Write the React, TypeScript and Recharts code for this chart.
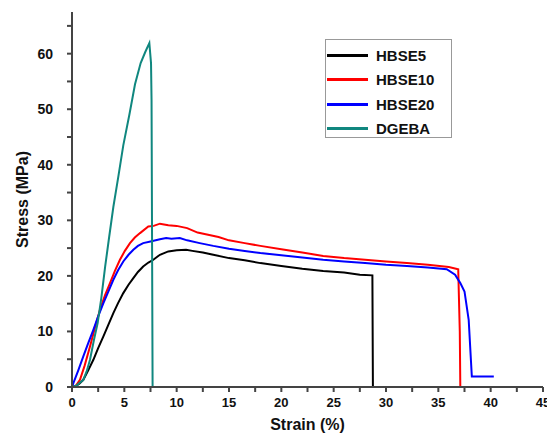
import { LineChart, Line, XAxis, YAxis, Label } from "recharts";

type Pt = { x: number; y: number };
const pts = (arr: number[][]): Pt[] => arr.map(([x, y]) => ({ x, y }));

const seriesNames = ["HBSE5", "HBSE10", "HBSE20", "DGEBA"];
const seriesColors = ["#000000", "#ff0000", "#0000ff", "#10877f"];

// strain (%), stress (MPa)
const hbse5 = pts([
  [0, 0], [0.4, 0.2], [0.7, 0.6], [1.08, 1.3], [1.55, 3.0], [2.04, 4.9], [2.5, 7.0],
  [3.0, 9.1], [3.5, 11.3], [3.95, 13.3], [4.4, 15.1], [4.9, 16.9], [5.4, 18.4],
  [5.86, 19.6], [6.3, 20.7], [6.8, 21.7], [7.3, 22.4], [7.77, 22.9], [8.4, 23.8],
  [9.2, 24.4], [10.0, 24.6], [10.9, 24.7], [11.5, 24.5], [12.5, 24.2], [13.5, 23.8],
  [15, 23.2], [16.5, 22.8], [18, 22.3], [20, 21.8], [22, 21.3], [24, 20.9],
  [26, 20.6], [27.5, 20.2], [28.7, 20.1], [28.75, 0], [29.1, 0],
]);

const hbse10 = pts([
  [0, 0], [0.4, 0.3], [0.76, 1.3], [1.2, 3.8], [1.72, 7.3], [2.2, 10.7], [2.67, 13.9],
  [3.15, 16.5], [3.63, 18.7], [4.1, 20.9], [4.58, 22.9], [5.05, 24.5], [5.54, 25.9],
  [6.0, 26.9], [6.5, 27.7], [7.29, 28.9], [7.8, 29.0], [8.4, 29.4], [9.2, 29.1],
  [10, 29.0], [11, 28.6], [12, 27.8], [13, 27.4], [14, 27.0], [15, 26.4], [16.5, 25.9],
  [18, 25.4], [20, 24.8], [22, 24.2], [24, 23.6], [26, 23.2], [28, 22.9],
  [30, 22.6], [32, 22.3], [34, 22.0], [36, 21.6], [36.9, 21.2], [37.05, 10], [37.1, 0],
]);

const hbse20 = pts([
  [0, 0], [0.13, 0.7], [0.6, 3.0], [1.08, 5.5], [1.55, 7.9], [2.04, 10.3], [2.5, 12.7],
  [3.0, 15.1], [3.5, 17.3], [3.95, 19.3], [4.4, 21.0], [4.9, 22.6], [5.4, 23.8],
  [5.86, 24.7], [6.3, 25.4], [6.8, 25.9], [7.5, 26.2], [8.4, 26.6], [9.0, 26.8],
  [9.5, 26.7], [10.3, 26.8], [11, 26.4], [12.2, 25.9], [13.5, 25.4], [15, 24.9],
  [16.5, 24.5], [18, 24.1], [20, 23.7], [22, 23.3], [24, 22.9], [26, 22.6],
  [28, 22.3], [30, 22.0], [32, 21.8], [34, 21.5], [35.8, 21.2], [36.6, 20.2],
  [37.1, 18.7], [37.5, 17.2], [37.9, 12.1], [38.2, 1.9], [40.3, 1.9],
]);

const dgeba = pts([
  [0, 0], [0.45, 0.3], [1.08, 1.3], [1.4, 2.8], [1.72, 4.9], [2.1, 8.5], [2.45, 11.5],
  [2.8, 16.0], [3.17, 21.7], [3.55, 27.0], [3.95, 32.4], [4.43, 37.9], [4.9, 43.5],
  [5.48, 49.0], [6.02, 54.5], [6.56, 58.3], [7.0, 60.3], [7.39, 61.9], [7.55, 58.3],
  [7.6, 51.7], [7.7, 0], [9.85, 0],
]);

const seriesData = [hbse5, hbse10, hbse20, dgeba];

const xTicks = [0, 2.5, 5, 7.5, 10, 12.5, 15, 17.5, 20, 22.5, 25, 27.5, 30, 32.5, 35, 37.5, 40, 42.5, 45];
const yTicks = [0, 5, 10, 15, 20, 25, 30, 35, 40, 45, 50, 55, 60, 65];

const axisColor = "#444";
const font = "'Liberation Sans', Arial, sans-serif";

function LegendBox() {
  return (
    <div
      style={{
        position: "absolute",
        left: 325,
        top: 39,
        border: "1px solid #999",
        background: "#fff",
        width: 127,
        height: 99,
        boxSizing: "border-box",
        paddingTop: 3,
      }}
    >
      {seriesNames.map((name, i) => (
        <div key={name} style={{ display: "flex", alignItems: "center", height: 24.5 }}>
          <div style={{ width: 41, height: 3, background: seriesColors[i], marginLeft: 1 }} />
          <span
            style={{
              marginLeft: 8,
              fontFamily: font,
              fontWeight: "bold",
              fontSize: 15,
              color: "#111",
            }}
          >
            {name}
          </span>
        </div>
      ))}
    </div>
  );
}

export default function App() {
  return (
    <div style={{ position: "absolute", left: 0, top: 0, width: 547, height: 433, background: "#fff" }}>
      <LineChart width={547} height={433} margin={{ top: 12, right: 4, left: 0, bottom: 0 }}>
        <XAxis
          type="number"
          dataKey="x"
          domain={[0, 45]}
          ticks={xTicks}
          interval={0}
          allowDataOverflow
          height={46}
          tickFormatter={(v: number) => (v % 5 === 0 ? String(v) : "")}
          stroke={axisColor}
          strokeWidth={2}
          tickSize={5}
          tickMargin={6}
          tick={{ fill: "#111", fontSize: 13, fontWeight: "bold", fontFamily: font }}
        >
          <Label
            value="Strain (%)"
            position="insideBottom"
            offset={3}
            style={{ fill: "#111", fontSize: 16, fontWeight: "bold", fontFamily: font }}
          />
        </XAxis>
        <YAxis
          type="number"
          domain={[0, 67.5]}
          ticks={yTicks}
          interval={0}
          allowDataOverflow
          width={72}
          tickFormatter={(v: number) => (v % 10 === 0 ? String(v) : "")}
          stroke={axisColor}
          strokeWidth={2}
          tickSize={5}
          tickMargin={14}
          tick={{ fill: "#111", fontSize: 14, fontWeight: "bold", fontFamily: font }}
        >
          <Label
            value="Stress (MPa)"
            angle={-90}
            position="insideLeft"
            offset={22}
            style={{ fill: "#111", fontSize: 16, fontWeight: "bold", fontFamily: font, textAnchor: "middle" }}
          />
        </YAxis>
        {seriesData.map((d, i) => (
          <Line
            key={seriesNames[i]}
            data={d}
            dataKey="y"
            name={seriesNames[i]}
            type="linear"
            stroke={seriesColors[i]}
            strokeWidth={2}
            dot={false}
            isAnimationActive={false}
          />
        ))}
      </LineChart>
      <LegendBox />
    </div>
  );
}
